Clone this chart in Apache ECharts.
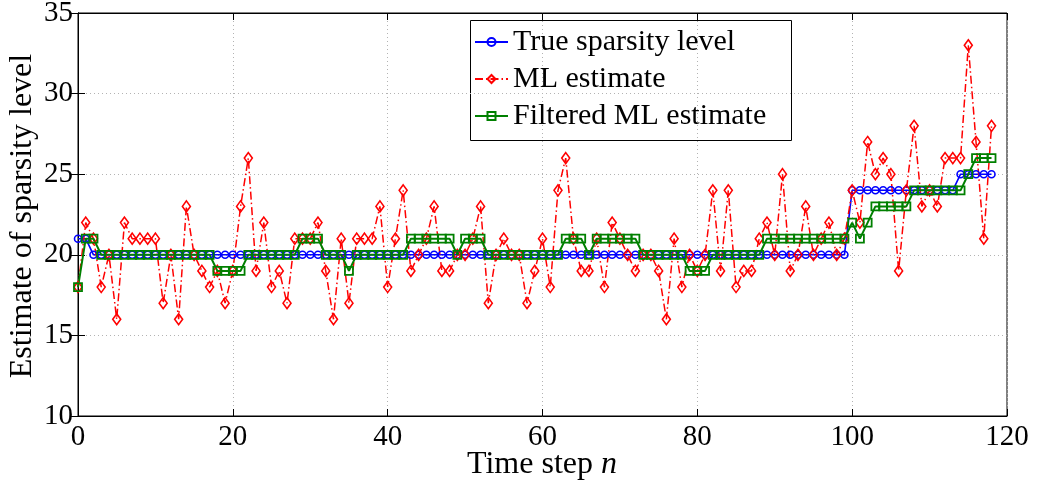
<!DOCTYPE html>
<html>
<head>
<meta charset="utf-8">
<script src="https://cdn.jsdelivr.net/npm/echarts@6/dist/echarts.min.js"></script>
<style>
html,body{margin:0;padding:0;background:#fff;}
#chart{width:1039px;height:486px;}
</style>
</head>
<body>
<div id="chart"></div>
<script>
// Time steps n = 0..118
var timeSteps = [
  0,1,2,3,4,5,6,7,8,9,10,11,12,13,14,15,16,17,18,19,
  20,21,22,23,24,25,26,27,28,29,30,31,32,33,34,35,36,37,38,39,
  40,41,42,43,44,45,46,47,48,49,50,51,52,53,54,55,56,57,58,59,
  60,61,62,63,64,65,66,67,68,69,70,71,72,73,74,75,76,77,78,79,
  80,81,82,83,84,85,86,87,88,89,90,91,92,93,94,95,96,97,98,99,
  100,101,102,103,104,105,106,107,108,109,110,111,112,113,114,115,116,117,118
];
var trueLevel = [
  21,21,20,20,20,20,20,20,20,20,
  20,20,20,20,20,20,20,20,20,20,
  20,20,20,20,20,20,20,20,20,20,
  20,20,20,20,20,20,20,20,20,20,
  20,20,20,20,20,20,20,20,20,20,
  20,20,20,20,20,20,20,20,20,20,
  20,20,20,20,20,20,20,20,20,20,
  20,20,20,20,20,20,20,20,20,20,
  20,20,20,20,20,20,20,20,20,20,
  20,20,20,20,20,20,20,20,20,20,
  24,24,24,24,24,24,24,24,24,24,
  24,24,24,24,25,25,25,25,25
];
var mlEstimate = [
  18,22,21,18,20,16,22,21,21,21,
  21,17,20,16,23,20,19,18,19,17,
  19,23,26,19,22,18,19,17,21,21,
  21,22,19,16,21,17,21,21,21,23,
  18,21,24,19,20,21,23,19,19,20,
  20,21,23,17,20,21,20,20,17,19,
  21,18,24,26,21,19,19,21,18,22,
  21,20,19,20,20,19,16,21,18,20,
  19,20,24,19,24,18,19,19,21,22,
  20,25,19,20,23,20,21,22,20,21,
  24,22,27,25,26,25,19,24,28,23,
  24,23,26,26,26,33,27,21,28
];
var filteredML = [
  18,21,21,20,20,20,20,20,20,20,
  20,20,20,20,20,20,20,20,19,19,
  19,19,20,20,20,20,20,20,20,21,
  21,21,20,20,20,19,20,20,20,20,
  20,20,20,21,21,21,21,21,21,20,
  21,21,21,20,20,20,20,20,20,20,
  20,20,20,21,21,21,20,21,21,21,
  21,21,21,20,20,20,20,20,20,19,
  19,19,20,20,20,20,20,20,20,21,
  21,21,21,21,21,21,21,21,21,21,
  22,21,22,23,23,23,23,23,24,24,
  24,24,24,24,24,25,26,26,26
];
var seriesNames = ['True sparsity level', 'ML estimate', 'Filtered ML estimate'];
var xTickValues = [0, 20, 40, 60, 80, 100, 120];
var yTickValues = [10, 15, 20, 25, 30, 35];
var xTitle = 'Time step ';
var xTitleVar = 'n';
var yTitle = 'Estimate of sparsity level';

function pairs(vals){ return timeSteps.map(function(n,i){ return [n, vals[i]]; }); }

var FONT = '"Liberation Serif", "Times New Roman", serif';
var chart = echarts.init(document.getElementById('chart'), null, {renderer:'canvas'});

var gridLine = {show:true, lineStyle:{color:'#b3b3b3', type:[1,3], width:1}};
var option = {
  animation:false,
  backgroundColor:'#fff',
  grid:{left:78, right:32, top:13, bottom:70, show:true, borderColor:'#000', borderWidth:1,
        containLabel:false, outerBoundsMode:'none'},
  xAxis:[{
    type:'value', min:xTickValues[0], max:xTickValues[xTickValues.length-1], interval:20,
    axisLine:{show:true, lineStyle:{color:'#000', width:1}},
    axisTick:{show:true, inside:true, length:7, lineStyle:{color:'#000'}},
    axisLabel:{color:'#000', fontFamily:FONT, fontSize:29, margin:7},
    splitLine:gridLine
  },{
    type:'value', position:'top', min:0, max:120, interval:20,
    axisLine:{show:true, lineStyle:{color:'#000'}},
    axisTick:{show:true, inside:true, length:7, lineStyle:{color:'#000'}},
    axisLabel:{show:false}, splitLine:{show:false}
  }],
  yAxis:[{
    type:'value', min:yTickValues[0], max:yTickValues[yTickValues.length-1], interval:5,
    axisLine:{show:true, lineStyle:{color:'#000', width:1}},
    axisTick:{show:true, inside:true, length:7, lineStyle:{color:'#000'}},
    axisLabel:{color:'#000', fontFamily:FONT, fontSize:29, margin:5},
    splitLine:gridLine
  },{
    type:'value', position:'right', min:10, max:35, interval:5,
    axisLine:{show:true, lineStyle:{color:'#000'}},
    axisTick:{show:true, inside:true, length:7, lineStyle:{color:'#000'}},
    axisLabel:{show:false}, splitLine:{show:false}
  }],
  legend:{
    orient:'vertical', left:474, top:27, padding:0, itemGap:7,
    itemWidth:33, itemHeight:10,
    textStyle:{fontFamily:FONT, fontSize:30, color:'#000', lineHeight:30},
    data:seriesNames
  },
  graphic:[{
    type:'rect', left:468, top:18, shape:{width:321, height:120},
    style:{fill:'none', stroke:'#000', lineWidth:1}, z:-1
  },{
    type:'text', x:542, y:465,
    style:{text:'{a|' + xTitle + '}{b|' + xTitleVar + '}', align:'center', verticalAlign:'middle',
      rich:{a:{fontFamily:FONT, fontSize:32, fill:'#000'}, b:{fontFamily:FONT, fontSize:32, fontStyle:'italic', fill:'#000'}}}
  },{
    type:'text', x:23, y:216, rotation:Math.PI/2,
    style:{text:yTitle, align:'center', verticalAlign:'middle', font:'32px ' + FONT, fill:'#000'}
  }],
  series:[{
    name:seriesNames[0], type:'line', data:pairs(trueLevel),
    symbol:'circle', symbolSize:7, showAllSymbol:true,
    lineStyle:{color:'#0000ff', width:1.6},
    itemStyle:{color:'rgba(255,255,255,0)', borderColor:'#0000ff', borderWidth:1.6},
    emphasis:{disabled:true}
  },{
    name:seriesNames[1], type:'line', data:pairs(mlEstimate),
    symbol:'diamond', symbolSize:[8,11], showAllSymbol:true,
    lineStyle:{color:'#ff0000', width:1.5, type:[8,3,1.5,3]},
    itemStyle:{color:'rgba(255,255,255,0)', borderColor:'#ff0000', borderWidth:1.6},
    emphasis:{disabled:true}
  },{
    name:seriesNames[2], type:'line', data:pairs(filteredML),
    symbol:'rect', symbolSize:8, showAllSymbol:true,
    lineStyle:{color:'#008000', width:2},
    itemStyle:{color:'rgba(255,255,255,0)', borderColor:'#008000', borderWidth:1.8},
    emphasis:{disabled:true}
  }]
};
chart.setOption(option);
</script>
</body>
</html>
